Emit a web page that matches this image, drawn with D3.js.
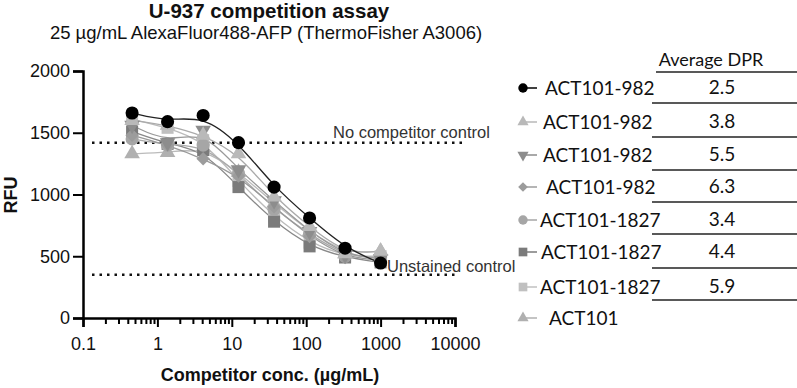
<!DOCTYPE html>
<html>
<head>
<meta charset="utf-8">
<script src="https://cdn.jsdelivr.net/npm/d3@7"></script>
<style>
  body { margin: 0; background: #fff; }
  svg { display: block; }
  text { font-family: "Liberation Sans", Arial, sans-serif; }
  .legend text, .dpr text { font-family: Lato, "Noto Sans", sans-serif; }
</style>
</head>
<body>
<svg id="drawing_region"></svg>
<script>
// competitor concentrations (ug/mL), 3-fold dilution
const conc = [0.457, 1.37, 4.12, 12.3, 37.0, 111, 333, 1000];

const seriesNames = ["ACT101-982", "ACT101-982", "ACT101-982", "ACT101-982",
                     "ACT101-1827", "ACT101-1827", "ACT101-1827", "ACT101"];
const dprValues = ["2.5", "3.8", "5.5", "6.3", "3.4", "4.4", "5.9", ""];

// RFU per series
const rfu982a  = [1660, 1590, 1640, 1420, 1060, 810, 565, 445];
const rfu982b  = [1600, 1560, 1480, 1330, 980, 740, 520, 540];
const rfu982c  = [1560, 1420, 1520, 1200, 950, 700, 510, 480];
const rfu982d  = [1480, 1400, 1290, 1150, 900, 660, 490, 470];
const rfu1827a = [1450, 1400, 1400, 1170, 880, 680, 500, 490];
const rfu1827b = [1510, 1410, 1360, 1060, 780, 580, 490, 450];
const rfu1827c = [1610, 1540, 1440, 1110, 820, 610, 500, 500];
const rfuAct   = [1330, 1340, 1380, 1180, 930, 700, 520, 540];

const controlLabels = ["No competitor control", "Unstained control"];
const controlValues = [1420, 350];

const yTicks = [0, 500, 1000, 1500, 2000];
const xTicks = [0.1, 1, 10, 100, 1000, 10000];

const seriesStyle = [
    {shape: "circle",   color: "#000000", line: "#222"},
    {shape: "triUp",    color: "#b9b9b9", line: "#aaa"},
    {shape: "triDown",  color: "#8d8d8d", line: "#999"},
    {shape: "diamond",  color: "#9c9c9c", line: "#999"},
    {shape: "circle",   color: "#a6a6a6", line: "#aaa"},
    {shape: "square",   color: "#7b7b7b", line: "#888"},
    {shape: "square",   color: "#c0c0c0", line: "#bbb"},
    {shape: "triUp",    color: "#b0b0b0", line: "#bbb"}
];

const allValues = [rfu982a, rfu982b, rfu982c, rfu982d, rfu1827a, rfu1827b, rfu1827c, rfuAct];
const series = allValues.map((vals, i) => ({
    name: seriesNames[i],
    dpr: dprValues[i],
    style: seriesStyle[i],
    points: vals.map((v, j) => ({x: conc[j], y: v}))
}));

const config = {
    width: 797, height: 388,
    left: 83, right: 455, top: 71, bottom: 318
};

const svg = d3.select("#drawing_region")
    .attr("width", config.width)
    .attr("height", config.height);

const xscale = d3.scaleLog().domain([0.1, 10000]).range([config.left, config.right]);
const yscale = d3.scaleLinear().domain([0, 2000]).range([config.bottom, config.top]);

function symbolPath(shape, scale) {
    let type = d3.symbolCircle, size = 135, rot = 0;
    if (shape === "triUp")   { type = d3.symbolTriangle; size = 105; }
    if (shape === "triDown") { type = d3.symbolTriangle; size = 105; rot = 180; }
    if (shape === "square")  { type = d3.symbolSquare; size = 145; }
    if (shape === "diamond") { type = d3.symbolSquare; size = 90; rot = 45; }
    return {d: d3.symbol().type(type).size(size * scale * scale)(), rot: rot};
}

// titles
svg.append("text")
    .attr("x", 269).attr("y", 18)
    .attr("text-anchor", "middle")
    .attr("font-size", 20.5).attr("font-weight", "bold")
    .attr("fill", "#111")
    .text("U-937 competition assay");

svg.append("text")
    .attr("x", 266).attr("y", 39)
    .attr("text-anchor", "middle")
    .attr("font-size", 18.5)
    .attr("fill", "#111")
    .text("25 \u00b5g/mL AlexaFluor488-AFP (ThermoFisher A3006)");

// control lines
const controls = svg.append("g");
controlValues.forEach((v, i) => {
    controls.append("line")
        .attr("x1", 92).attr("x2", i === 0 ? 462 : 457)
        .attr("y1", yscale(v)).attr("y2", yscale(v))
        .attr("stroke", "#111")
        .attr("stroke-width", 2.5)
        .attr("stroke-dasharray", "2.5 5");
});

// fitted-looking curves through points
const line = d3.line()
    .x(d => xscale(d.x))
    .y(d => yscale(d.y))
    .curve(d3.curveBasis);

const plot = svg.append("g");
const drawOrder = [7, 6, 5, 4, 3, 2, 1, 0];

drawOrder.forEach(i => {
    plot.append("path")
        .attr("d", line(series[i].points))
        .attr("fill", "none")
        .attr("stroke", series[i].style.line)
        .attr("stroke-width", 1.3);
});

drawOrder.forEach(i => {
    const s = series[i];
    const sym = symbolPath(s.style.shape, 1);
    plot.selectAll(null)
        .data(s.points)
        .enter()
        .append("path")
        .attr("d", sym.d)
        .attr("transform", d => `translate(${xscale(d.x)},${yscale(d.y)}) rotate(${sym.rot})`)
        .attr("fill", s.style.color);
});

// control labels
svg.append("text")
    .attr("x", 333).attr("y", 138)
    .attr("font-size", 16.5).attr("fill", "#333")
    .text(controlLabels[0]);
svg.append("text")
    .attr("x", 387).attr("y", 272)
    .attr("font-size", 16.5).attr("fill", "#333")
    .text(controlLabels[1]);

// axes
const yaxis = d3.axisLeft(yscale)
    .tickValues(yTicks)
    .tickSize(10)
    .tickPadding(3)
    .tickFormat(d3.format("d"));

const yaxis_group = svg.append("g")
    .attr("transform", `translate(${config.left},0)`)
    .call(yaxis);

const minorTicks = [];
for (let e = -1; e < 4; e++) {
    for (let m = 2; m < 10; m++) minorTicks.push(m * Math.pow(10, e));
}

const xminor_group = svg.append("g")
    .attr("transform", `translate(0,${config.bottom})`)
    .call(d3.axisBottom(xscale).tickValues(minorTicks).tickSize(6).tickFormat(""));

const xaxis = d3.axisBottom(xscale)
    .tickValues(xTicks)
    .tickSize(9)
    .tickPadding(10)
    .tickFormat(d => d < 1 ? "0.1" : d3.format("d")(d));

const xaxis_group = svg.append("g")
    .attr("transform", `translate(0,${config.bottom})`)
    .call(xaxis);

[yaxis_group, xaxis_group, xminor_group].forEach(g => {
    g.select(".domain").attr("stroke", "#000").attr("stroke-width", 2.5);
    g.selectAll(".tick line").attr("stroke", "#000").attr("stroke-width", 2);
    g.selectAll(".tick text")
        .attr("font-family", "'Liberation Sans', Arial, sans-serif")
        .attr("font-size", 18).attr("fill", "#111");
});
xminor_group.select(".domain").remove();

svg.append("text")
    .attr("x", 270).attr("y", 381)
    .attr("text-anchor", "middle")
    .attr("font-size", 18).attr("font-weight", "bold")
    .attr("fill", "#111")
    .text("Competitor conc. (\u00b5g/mL)");

svg.append("text")
    .attr("transform", "translate(17,195) rotate(-90)")
    .attr("text-anchor", "middle")
    .attr("font-size", 18).attr("font-weight", "bold")
    .attr("fill", "#111")
    .text("RFU");

// legend
const rowY = [88, 122, 155, 187, 220, 252, 287, 318];
const textX = [545, 543, 543, 546, 540, 541, 540, 549];

const legend = svg.append("g").attr("class", "legend");
series.forEach((s, i) => {
    const row = legend.append("g").attr("transform", `translate(0,${rowY[i]})`);
    row.append("line")
        .attr("x1", 522).attr("x2", 537)
        .attr("stroke", s.style.line === "#222" ? "#000" : s.style.color)
        .attr("stroke-width", 1.5);
    const sym = symbolPath(s.style.shape, 0.72);
    row.append("path")
        .attr("d", sym.d)
        .attr("transform", `translate(523,0) rotate(${sym.rot})`)
        .attr("fill", s.style.color);
    row.append("text")
        .attr("x", textX[i]).attr("y", 7)
        .attr("font-size", 19).attr("fill", "#111")
        .text(s.name);
});

// DPR table
const dpr = svg.append("g").attr("class", "dpr");
dpr.append("text")
    .attr("x", 711).attr("y", 66)
    .attr("text-anchor", "middle")
    .attr("font-size", 18).attr("fill", "#111")
    .text("Average DPR");
dpr.append("line")
    .attr("x1", 656).attr("x2", 797)
    .attr("y1", 72).attr("y2", 72)
    .attr("stroke", "#222").attr("stroke-width", 1.5);

const ruleY = [103, 137, 170, 202, 234, 268, 300];
series.forEach((s, i) => {
    if (!s.dpr) return;
    dpr.append("text")
        .attr("x", 722).attr("y", rowY[i] + 6)
        .attr("text-anchor", "middle")
        .attr("font-size", 19).attr("fill", "#111")
        .text(s.dpr);
    dpr.append("line")
        .attr("x1", 652).attr("x2", 797)
        .attr("y1", ruleY[i]).attr("y2", ruleY[i])
        .attr("stroke", "#222").attr("stroke-width", 1.5);
});
</script>
</body>
</html>
